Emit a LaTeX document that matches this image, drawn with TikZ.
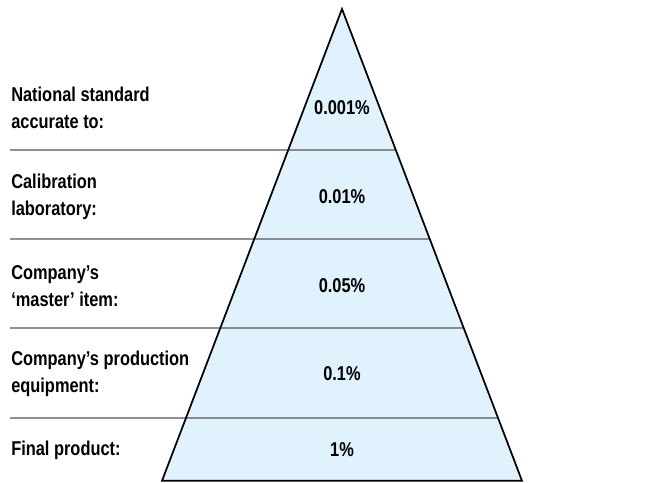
\documentclass[tikz,border=0pt]{standalone}
\usepackage{fontspec}
\setmainfont{Liberation Sans}[FakeStretch=0.82]
\usepackage{tikz}
\usetikzlibrary{calc}

\definecolor{pyrfill}{HTML}{E0F2FD}
\definecolor{bandline}{HTML}{555555}

\begin{document}
\begin{tikzpicture}[x=0.75pt, y=0.75pt,
    every node/.style={font=\fontsize{15pt}{20pt}\selectfont\bfseries},
    level/.style={anchor=west, align=left, inner sep=0pt},
    value/.style={anchor=center, inner sep=0pt}]

    \useasboundingbox (0,0) rectangle (670,482);

    % Pyramid corners
    \coordinate (apex) at (342,473);
    \coordinate (bl) at (162,1.2);
    \coordinate (br) at (522,1.2);

    % Fill of the pyramid
    \fill[pyrfill] (apex) -- (br) -- (bl) -- cycle;

    % Band dividers: from the left margin to the right side of the pyramid
    \foreach \y [count=\i] in {332,243,154,64} {
        \coordinate (cut\i) at ($(apex)!{(473-\y)/471.8}!(br)$);
        \coordinate (left\i) at (10,\y);
        \draw[bandline, line width=0.9pt] (left\i) -- (cut\i);
    }

    % Pyramid outline
    \draw[line width=1.3pt, line join=miter] (apex) -- (br) -- (bl) -- cycle;

    % Levels on the left
    \node[level] (national) at (11,374) {National standard\\accurate to:};
    \node[level] (calib) at (11,285) {Calibration\\laboratory:};
    \node[level] (master) at (11,196) {Company’s\\‘master’ item:};
    \node[level] (equip) at (11,108) {Company’s production\\equipment:};
    \node[level] (final) at (11,32) {Final product:};

    % Accuracy in each band
    \node[value] (v1) at (342,374) {0.001\%};
    \node[value] (v2) at (342,285) {0.01\%};
    \node[value] (v3) at (342,196) {0.05\%};
    \node[value] (v4) at (342,108) {0.1\%};
    \node[value] (v5) at (342,32) {1\%};

\end{tikzpicture}
\end{document}
